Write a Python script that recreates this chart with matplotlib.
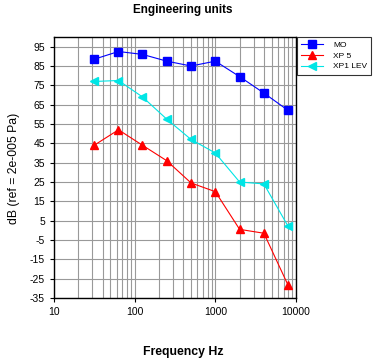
import matplotlib
matplotlib.use('Agg')
import matplotlib.pyplot as plt
from matplotlib.ticker import FixedLocator, LogLocator, NullFormatter

plt.rcParams['font.family'] = 'Liberation Sans'
plt.rcParams['axes.unicode_minus'] = False

freq = [31.5, 63, 125, 250, 500, 1000, 2000, 4000, 8000]
mo = [88.5, 92.5, 91, 87.5, 85, 87.5, 79.5, 71, 62]
xp5 = [44, 52, 44, 36, 24.5, 20, 0.5, -1.5, -28.5]
xp1_lev = [77, 77.5, 69, 57.5, 47, 40, 25, 24, 2]
yticks = list(range(-35, 96, 10))
xticks = [10, 100, 1000, 10000]

fig = plt.figure(figsize=(3.92, 3.61), dpi=100)
ax = fig.add_axes([54 / 392, 1 - 298 / 361, 242 / 392, 261 / 361])

ax.plot(freq, mo, color='#0000ff', marker='s', markersize=6, linewidth=0.8, label='MO')
ax.plot(freq, xp5, color='#ff0000', marker='^', markersize=6, linewidth=0.8, label='XP 5')
ax.plot(freq, xp1_lev, color='#00e5e5', marker='<', markersize=6, linewidth=0.8, label='XP1 LEV')

ax.set_xscale('log')
ax.set_xlim(10, 10000)
ax.set_ylim(-35, 100)
ax.xaxis.set_major_locator(FixedLocator(xticks))
ax.set_xticklabels([str(x) for x in xticks])
ax.xaxis.set_minor_locator(LogLocator(base=10, subs=range(2, 10)))
ax.xaxis.set_minor_formatter(NullFormatter())
ax.set_yticks(yticks)
ax.tick_params(labelsize=7.5, length=3, width=0.8)
ax.tick_params(which='minor', length=0)
ax.grid(True, which='both', color='#999999', linewidth=0.8)
ax.set_axisbelow(True)
for s in ax.spines.values():
    s.set_linewidth(1)

fig.text(183 / 392, 1 - 10 / 361, 'Engineering units', ha='center', va='center',
         fontsize=8.5, fontweight='bold')
fig.text(183 / 392, 1 - 352 / 361, 'Frequency Hz', ha='center', va='center',
         fontsize=8.8, fontweight='bold')
fig.text(14 / 392, 1 - 168 / 361, 'dB (ref = 2e-005 Pa)', ha='center', va='center',
         rotation=90, fontsize=8.8)

leg = ax.legend(loc='upper left', bbox_to_anchor=(1.005, 1.0), fontsize=6,
                frameon=True, fancybox=False, edgecolor='black',
                borderaxespad=0, handlelength=2.6, labelspacing=0.35,
                borderpad=0.5, handletextpad=1.2, markerscale=0.9)
leg.get_frame().set_linewidth(0.8)

fig.savefig('out.png', dpi=100)
